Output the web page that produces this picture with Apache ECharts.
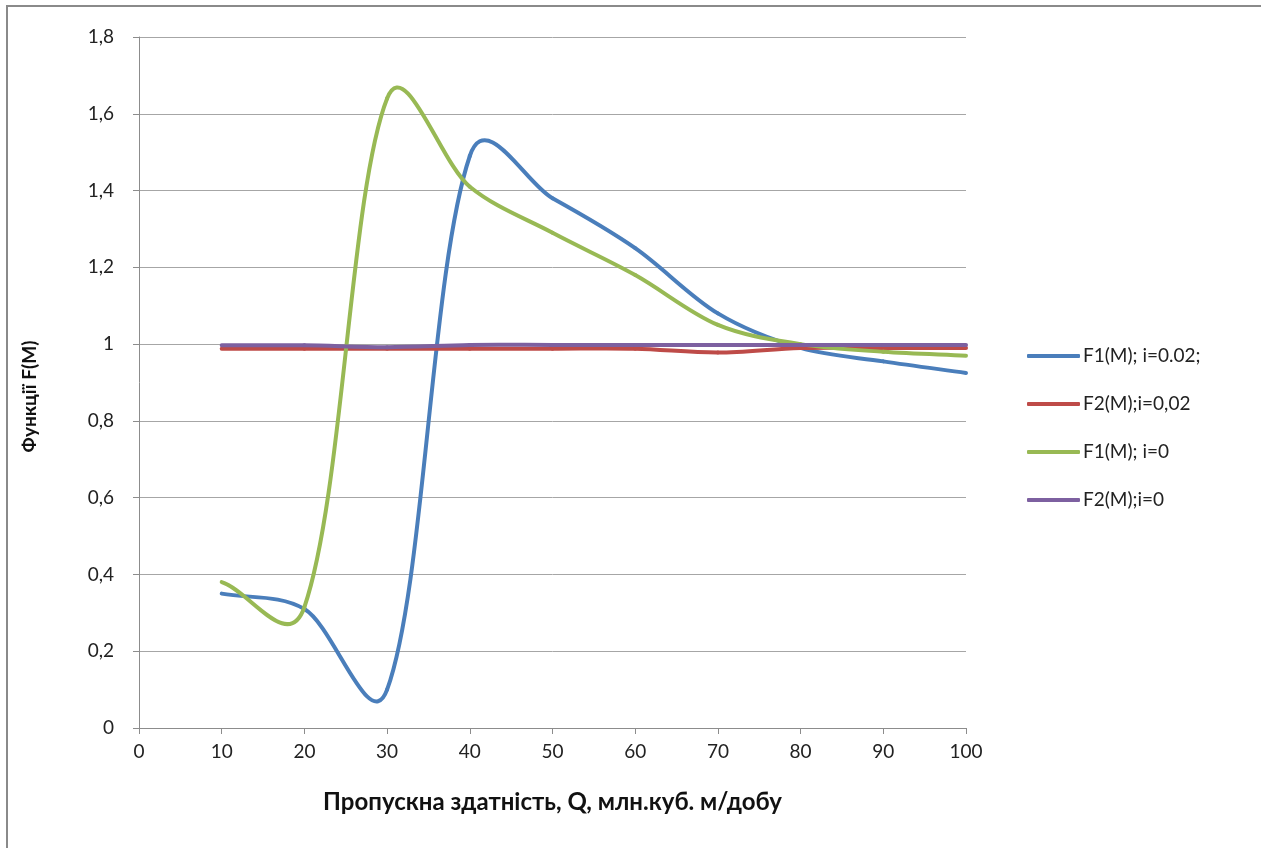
<!DOCTYPE html>
<html>
<head>
<meta charset="utf-8">
<script src="https://cdn.jsdelivr.net/npm/echarts@6/dist/echarts.min.js"></script>
<style>html,body{margin:0;padding:0;background:#fff}#c{width:1261px;height:848px}</style>
</head>
<body>
<div id="c"></div>
<script>
const xValues = [10, 20, 30, 40, 50, 60, 70, 80, 90, 100];
const f1i002 = [0.35, 0.31, 0.10, 1.49, 1.38, 1.25, 1.08, 0.99, 0.955, 0.925];
const f2i002 = [0.988, 0.988, 0.988, 0.988, 0.988, 0.988, 0.978, 0.99, 0.99, 0.99];
const f1i0 = [0.38, 0.315, 1.64, 1.41, 1.29, 1.18, 1.05, 1.0, 0.98, 0.97];
const f2i0 = [0.997, 0.997, 0.992, 0.998, 0.998, 0.998, 0.998, 0.998, 0.998, 0.998];
const seriesNames = ['F1(M); i=0.02;', 'F2(M);i=0,02', 'F1(M); i=0', 'F2(M);i=0'];
const seriesColors = ['#4a7ebb', '#be4b48', '#98b954', '#7d60a0'];
const xTitle = 'Пропускна здатність, Q, млн.куб. м/добу';
const yTitle = 'Функції F(M)';

const allData = [f1i002, f2i002, f1i0, f2i0];
const FONT = 'Lato';
const TENSION = 1 / 6;

// Excel-like smoothed segment: Bezier with tangent (P[i+1]-P[i-1]) weighted by sqrt of neighbouring chord lengths
function makeRenderItem(color) {
  return function (params, api) {
    const i = params.dataIndexInside;
    const n = params.dataInsideLength;
    if (i >= n - 1) return null;
    const pt = j => {
      const jj = Math.max(0, Math.min(n - 1, j));
      return api.coord([api.value(0, jj), api.value(1, jj)]);
    };
    const P0 = pt(i - 1), P1 = pt(i), P2 = pt(i + 1), P3 = pt(i + 2);
    const d = (a, b) => Math.sqrt(Math.hypot(a[0] - b[0], a[1] - b[1]));
    const d01 = d(P0, P1), d12 = d(P1, P2), d23 = d(P2, P3);
    const s1 = (d01 + d12) > 0 ? 2 * TENSION * d12 / (d01 + d12) : 0;
    const s2 = (d12 + d23) > 0 ? 2 * TENSION * d12 / (d12 + d23) : 0;
    const c1 = [P1[0] + (P2[0] - P0[0]) * s1, P1[1] + (P2[1] - P0[1]) * s1];
    const c2 = [P2[0] - (P3[0] - P1[0]) * s2, P2[1] - (P3[1] - P1[1]) * s2];
    return {
      type: 'bezierCurve',
      shape: {x1: P1[0], y1: P1[1], x2: P2[0], y2: P2[1], cpx1: c1[0], cpy1: c1[1], cpx2: c2[0], cpy2: c2[1]},
      style: {fill: null, stroke: color, lineWidth: 4, lineCap: 'round'},
      silent: true
    };
  };
}

const chart = echarts.init(document.getElementById('c'), null, {renderer: 'canvas'});
chart.setOption({
  animation: false,
  backgroundColor: '#ffffff',
  graphic: [{
    type: 'rect',
    shape: {x: 7, y: 6, width: 1400, height: 1000},
    style: {fill: 'none', stroke: '#8a8a8a', lineWidth: 2},
    silent: true
  }],
  grid: {left: 139, right: 295, top: 37, bottom: 120, containLabel: false},
  legend: {
    orient: 'vertical',
    left: 1027,
    top: 346,
    padding: 0,
    itemWidth: 53,
    itemHeight: 4,
    itemGap: 28,
    icon: 'roundRect',
    textStyle: {fontFamily: FONT, fontSize: 19, lineHeight: 20, color: '#222', padding: [0, 0, 0, -2]},
    data: seriesNames
  },
  xAxis: {
    type: 'value',
    min: 0, max: 100, interval: 10,
    name: xTitle,
    nameLocation: 'middle',
    nameGap: 62,
    nameTextStyle: {fontFamily: FONT, fontSize: 24, fontWeight: 'bold', color: '#111'},
    axisLine: {show: true, lineStyle: {color: '#8c8c8c', width: 1}},
    axisTick: {show: true, length: 6, inside: false, lineStyle: {color: '#8c8c8c'}},
    axisLabel: {fontFamily: FONT, fontSize: 19, color: '#222', margin: 14},
    splitLine: {show: false}
  },
  yAxis: {
    type: 'value',
    min: 0, max: 1.8, interval: 0.2,
    name: yTitle,
    nameLocation: 'middle',
    nameGap: 100,
    nameRotate: 90,
    nameTextStyle: {fontFamily: FONT, fontSize: 19, fontWeight: 'bold', color: '#111', padding: [0, 28, 0, 0]},
    axisLine: {show: true, lineStyle: {color: '#8c8c8c', width: 1}},
    axisTick: {show: true, length: 6, lineStyle: {color: '#8c8c8c'}},
    axisLabel: {fontFamily: FONT, fontSize: 19, color: '#222', margin: 25,
      formatter: v => String(Math.round(v * 10) / 10).replace('.', ',')},
    splitLine: {show: true, lineStyle: {color: '#a6a6a6', width: 1}}
  },
  series: allData.map((arr, i) => ({
    name: seriesNames[i],
    type: 'custom',
    coordinateSystem: 'cartesian2d',
    renderItem: makeRenderItem(seriesColors[i]),
    itemStyle: {color: seriesColors[i]},
    encode: {x: 0, y: 1},
    data: xValues.map((x, k) => [x, arr[k]]),
    z: 2 + i
  }))
});
</script>
</body>
</html>
